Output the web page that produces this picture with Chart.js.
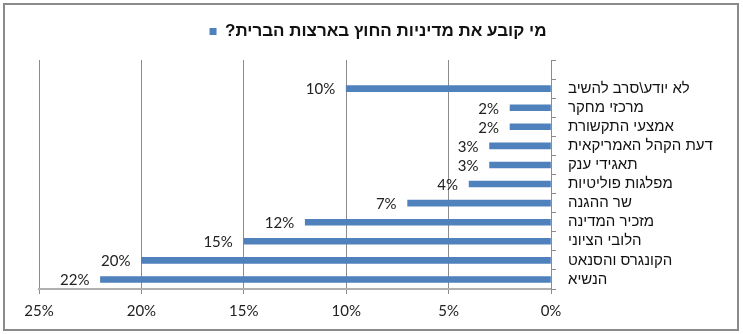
<!DOCTYPE html>
<html>
<head>
<meta charset="utf-8">
<script src="https://cdn.jsdelivr.net/npm/chart.js@4.4.1/dist/chart.umd.min.js"></script>
<style>
  html, body { margin: 0; padding: 0; background: #fff; }
  #wrap { width: 743px; height: 334px; position: relative; }
</style>
</head>
<body>
<div id="wrap"><canvas id="c" width="743" height="334"></canvas></div>
<script>
const seriesName = "מי קובע את מדיניות החוץ בארצות הברית?";
const categories = [
  "",
  "לא יודע\\סרב להשיב",
  "מרכזי מחקר",
  "אמצעי התקשורת",
  "דעת הקהל האמריקאית",
  "תאגידי ענק",
  "מפלגות פוליטיות",
  "שר ההגנה",
  "מזכיר המדינה",
  "הלובי הציוני",
  "הקונגרס והסנאט",
  "הנשיא"
];
const values = [null, 10, 2, 2, 3, 3, 4, 7, 12, 15, 20, 22];
const xTicks = [0, 5, 10, 15, 20, 25];

const frame = {
  id: 'frame',
  beforeDraw(chart) {
    const ctx = chart.ctx;
    ctx.save();
    ctx.fillStyle = '#fff';
    ctx.fillRect(0, 0, chart.width, chart.height);
    ctx.restore();
  },
  afterDraw(chart) {
    const ctx = chart.ctx;
    ctx.save();
    ctx.strokeStyle = '#8a8a8a';
    ctx.lineWidth = 2;
    ctx.strokeRect(4, 4, 734, 326);
    ctx.restore();
  }
};

const valueLabels = {
  id: 'valueLabels',
  afterDatasetsDraw(chart) {
    const ctx = chart.ctx;
    const meta = chart.getDatasetMeta(0);
    ctx.save();
    ctx.font = '15px Lato, "DejaVu Sans", sans-serif';
    ctx.fillStyle = '#222';
    ctx.textAlign = 'right';
    ctx.textBaseline = 'middle';
    meta.data.forEach((el, i) => {
      const v = chart.data.datasets[0].data[i];
      if (v === null || v === undefined) return;
      ctx.fillText(v + '%', el.x - 11, el.y + 1);
    });
    ctx.restore();
  }
};

new Chart(document.getElementById('c'), {
  type: 'bar',
  data: {
    labels: categories,
    datasets: [{
      label: seriesName,
      data: values,
      backgroundColor: '#4F81BD',
      borderWidth: 0,
      barThickness: 6
    }]
  },
  options: {
    indexAxis: 'y',
    responsive: false,
    animation: false,
    layout: { padding: { left: 39, right: 26, top: 13, bottom: 6 } },
    plugins: {
      legend: {
        display: true,
        position: 'top',
        weight: 3000,
        rtl: false,
        textDirection: 'rtl',
        labels: {
          boxWidth: 7,
          boxHeight: 7,
          padding: 10,
          color: '#111',
          font: { family: '"Liberation Sans", Arial, sans-serif', size: 17, weight: 'bold' }
        }
      },
      title: {
        display: true,
        text: ' ',
        padding: 0,
        font: { size: 10, lineHeight: 1 }
      },
      tooltip: { enabled: false }
    },
    scales: {
      x: {
        type: 'linear',
        reverse: true,
        min: 0,
        max: 25,
        afterBuildTicks(scale) { scale.ticks = xTicks.map(v => ({ value: v })); },
        ticks: {
          callback: v => v + '%',
          color: '#222',
          padding: 8,
          font: { family: 'Lato, "DejaVu Sans", sans-serif', size: 15 }
        },
        grid: { color: '#8c8c8c', lineWidth: 1, tickLength: 5, drawTicks: true },
        border: { color: '#b0b0b0', width: 2 }
      },
      y: {
        position: 'right',
        afterFit(scale) { scale.width = 743 - 26 - 551; },
        ticks: {
          color: '#111',
          padding: 12,
          autoSkip: false,
          font: { family: '"Liberation Sans", Arial, sans-serif', size: 15 }
        },
        grid: { drawOnChartArea: false, drawTicks: true, tickLength: 5, color: '#8c8c8c', offset: true },
        border: { color: '#8c8c8c', width: 1 }
      }
    }
  },
  plugins: [frame, valueLabels]
});
</script>
</body>
</html>
